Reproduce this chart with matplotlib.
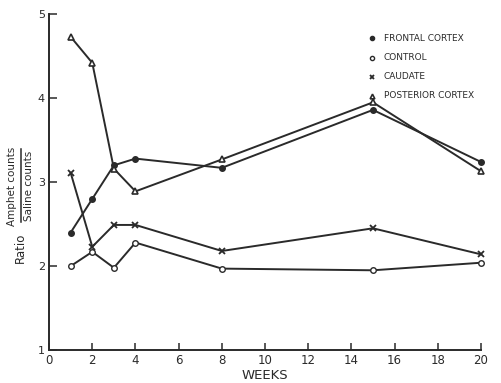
import numpy as np
import matplotlib.pyplot as plt

weeks = [1, 2, 3, 4, 8, 15, 20]
frontal = [2.40, 2.80, 3.20, 3.28, 3.17, 3.86, 3.24]
control = [2.00, 2.17, 1.98, 2.28, 1.97, 1.95, 2.04]
caudate = [3.11, 2.23, 2.49, 2.49, 2.18, 2.45, 2.14]
posterior = [4.73, 4.42, 3.16, 2.89, 3.27, 3.95, 3.13]

labels = ['FRONTAL CORTEX', 'CONTROL', 'CAUDATE', 'POSTERIOR CORTEX']
xticks = list(range(0, 21, 2))
yticks = [1, 2, 3, 4, 5]

ink = '#2a2a2a'

fig = plt.figure(figsize=(5.01, 3.83), dpi=100)
ax = fig.add_axes([0.098, 0.086, 0.862, 0.877])

series = [frontal, control, caudate, posterior]
styles = [dict(marker='o', ms=4, mfc=ink),
          dict(marker='o', ms=4, mfc='white'),
          dict(marker='x', ms=4.5, mew=1.3),
          dict(marker='^', ms=4.5, mfc='white', mew=1.2)]
for vals, st in zip(series, styles):
    ax.plot(weeks, vals, color=ink, lw=1.4, mec=ink, clip_on=False, **st)

# legend drawn as plain text with markers
for i, (lab, st) in enumerate(zip(labels, styles)):
    yy = 0.928 - i * 0.057
    ax.plot([0.747], [yy], transform=ax.transAxes, color=ink, mec=ink,
            ls='none', clip_on=False, **dict(st, ms=st['ms'] * 0.75))
    ax.text(0.775, yy, lab, transform=ax.transAxes, fontsize=6.5,
            color=ink, va='center', ha='left')

ax.set_xlim(0, 20)
ax.set_ylim(1, 5)
ax.set_xticks(xticks)
ax.set_yticks(yticks)
ax.tick_params(axis='x', direction='in', length=5, width=1.1, colors=ink,
               labelsize=8.5, pad=3)
ax.tick_params(axis='y', direction='in', length=6, width=1.1, colors=ink,
               labelsize=8, pad=3)
for s in ['top', 'right']:
    ax.spines[s].set_visible(False)
for s in ['left', 'bottom']:
    ax.spines[s].set_linewidth(1.4)
    ax.spines[s].set_color(ink)

ax.set_xlabel('WEEKS', fontsize=9.5, color=ink, labelpad=1)

# y label: "Ratio" plus a stacked fraction
fig.text(0.040, 0.352, 'Ratio', rotation=90, fontsize=8.5, color=ink,
         ha='center', va='center')
fig.text(0.024, 0.514, 'Amphet counts', rotation=90, fontsize=7.5, color=ink,
         ha='center', va='center')
fig.text(0.057, 0.514, 'Saline counts', rotation=90, fontsize=7.5, color=ink,
         ha='center', va='center')
fig.add_artist(plt.Line2D([0.041, 0.041], [0.42, 0.61], color=ink, lw=1.1))

plt.savefig('out.png', dpi=100)
plt.close()
